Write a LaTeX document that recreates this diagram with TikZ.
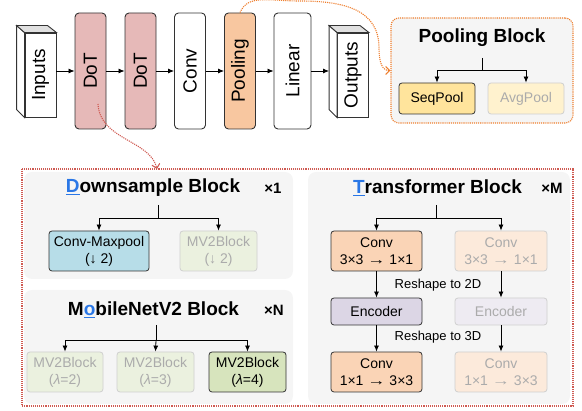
\documentclass[tikz,border=0pt]{standalone}
\usepackage{fontspec}
\setmainfont{Liberation Sans}
\usepackage{tikz}
\usetikzlibrary{arrows.meta,positioning}

\definecolor{dotred}{HTML}{E6B9B8}
\definecolor{poolorg}{HTML}{F8C7A0}
\definecolor{panelgray}{HTML}{F5F5F5}
\definecolor{linkorg}{HTML}{EE7E2D}
\definecolor{linkred}{HTML}{CF5A52}
\definecolor{seqyel}{HTML}{FFE49C}
\definecolor{avgyel}{HTML}{FFF2CE}
\definecolor{cmpblue}{HTML}{B7DDE8}
\definecolor{mvgreen}{HTML}{D7E4BD}
\definecolor{mvpale}{HTML}{EBF1DF}
\definecolor{convorg}{HTML}{FAD4B6}
\definecolor{convpale}{HTML}{FCEADB}
\definecolor{encpurp}{HTML}{DCD6E5}
\definecolor{encpale}{HTML}{EEEBF2}
\definecolor{keyblue}{HTML}{2A77E6}
\definecolor{fadetxt}{HTML}{ABABAB}
\definecolor{fadeline}{HTML}{CFCFCF}

\newcommand{\keyletter}[1]{\textcolor{keyblue}{\underline{#1}}}
\newcommand{\maparrow}{\scalebox{1.3}[1]{→}}

\tikzset{
  layerbox/.style={draw=black!80, line width=0.9pt, rounded corners=4pt, minimum width=31pt, minimum height=116pt, inner sep=0pt, font=\fontsize{19}{22}\selectfont},
  cubebox/.style={draw=black!80, line width=0.9pt, fill=white, minimum width=31pt, minimum height=84pt, inner sep=0pt, font=\fontsize{19}{22}\selectfont},
  opbox/.style={draw=black!80, line width=0.8pt, rounded corners=3pt, minimum height=40pt, inner sep=0pt, align=center, font=\fontsize{14}{17}\selectfont},
  fadedbox/.style={draw=fadeline, text=fadetxt},
  titletext/.style={font=\fontsize{19}{22}\selectfont\bfseries},
  repeattext/.style={font=\fontsize{15}{17}\selectfont\bfseries},
  notetext/.style={font=\fontsize{13}{15}\selectfont},
  flowarrow/.style={-{Latex[length=6pt,width=5pt]}, line width=0.8pt},
  linkarrow/.style={densely dotted, line width=1.1pt, -{Straight Barb[length=4pt,width=8pt]}}
}

\begin{document}
\begin{tikzpicture}[x=1pt, y=-1pt]
    \useasboundingbox (0,0) rectangle (582,411);

    \node[cubebox] (inp) at (40.5,75) {\rotatebox{90}{Inputs}};
    \filldraw[fill=white, draw=black!80, line width=0.9pt] (inp.north west) -- ++(-8,-7) -- ++(0,84) -- (inp.south west) -- cycle;
    \filldraw[fill=black!12, draw=black!80, line width=0.9pt] (inp.north west) -- ++(-8,-7) -- ++(31,0) -- (inp.north east) -- cycle;
    \node[layerbox, fill=dotred] (dot1) at (90.5,71) {\rotatebox{90}{DoT}};
    \node[layerbox, fill=dotred] (dot2) at (140.5,71) {\rotatebox{90}{DoT}};
    \node[layerbox, fill=white] (conv) at (190,71) {\rotatebox{90}{Conv}};
    \node[layerbox, fill=poolorg] (pool) at (240,71) {\rotatebox{90}{Pooling}};
    \node[layerbox, fill=white, minimum width=37pt] (lin) at (292.5,71) {\rotatebox{90}{Linear}};
    \node[cubebox] (outs) at (353,75) {\rotatebox{90}{Outputs}};
    \filldraw[fill=white, draw=black!80, line width=0.9pt] (outs.north west) -- ++(-8,-7) -- ++(0,84) -- (outs.south west) -- cycle;
    \filldraw[fill=black!12, draw=black!80, line width=0.9pt] (outs.north west) -- ++(-8,-7) -- ++(31,0) -- (outs.north east) -- cycle;
    \coordinate (outsback) at ([xshift=-8pt]outs.west);

    \draw[flowarrow] (inp.east |- dot1.west) -- (dot1.west);
    \draw[flowarrow] (dot1.east) -- (dot2.west);
    \draw[flowarrow] (dot2.east) -- (conv.west);
    \draw[flowarrow] (conv.east) -- (pool.west);
    \draw[flowarrow] (pool.east) -- (lin.west);
    \draw[flowarrow] (lin.east) -- (lin.east -| outsback);

    \node[draw=linkorg, densely dotted, line width=1.1pt, fill=panelgray, rounded corners=8pt, minimum width=182pt, minimum height=105pt] (pblk) at (482,70.5) {};
    \node[titletext] (ptitle) at (482,38) {Pooling Block};
    \node[opbox, fill=seqyel, minimum width=76pt, minimum height=31pt] (seq) at (437,98.5) {SeqPool};
    \node[opbox, fadedbox, fill=avgyel, minimum width=76pt, minimum height=31pt] (avg) at (526,98.5) {AvgPool};
    \coordinate (pstem) at (482,58);
    \draw[line width=0.8pt] (pstem) -- ++(0,12) coordinate (pfork);
    \draw[flowarrow] (pfork) -| (seq.north);
    \draw[flowarrow] (pfork) -| (avg.north);

    \draw[linkarrow, linkorg] (pool.north) .. controls (248,-6) and (268,1) .. (300,1) .. controls (345,1) and (379,10) .. (379,48) .. controls (379,62) and (382,70.5) .. (pblk.west);

    \draw[linkred, densely dotted, line width=1.1pt] (22,169) rectangle (573,406);
    \coordinate (framein) at (157,169);
    \coordinate (dotsrc) at (98,104);
    \draw[linkarrow, linkred] (dotsrc) .. controls (100,140) and (150,140) .. (framein);

    \fill[panelgray, rounded corners=8pt] (24,172) rectangle (293,279);
    \fill[panelgray, rounded corners=8pt] (24,290) rectangle (293,404);
    \fill[panelgray, rounded corners=8pt] (308,172) rectangle (570,404);

    \node[titletext] (dstitle) at (153,188) {\keyletter{D}ownsample Block};
    \node[repeattext] (dsrep) at (273,188) {×1};
    \node[opbox, fill=cmpblue, minimum width=100pt] (cmp) at (99,251) {Conv-Maxpool\\(↓ 2)};
    \node[opbox, fadedbox, fill=mvpale, minimum width=77pt] (dsmv) at (218.5,251) {MV2Block\\(↓ 2)};
    \coordinate (dsstem) at (158,205);
    \draw[line width=0.8pt] (dsstem) -- ++(0,13) coordinate (dsfork);
    \draw[flowarrow] (dsfork) -| (cmp.north);
    \draw[flowarrow] (dsfork) -| (dsmv.north);

    \node[titletext] (mvtitle) at (153.5,310) {M\keyletter{o}bileNetV2 Block};
    \node[repeattext] (mvrep) at (274,310) {×N};
    \node[opbox, fadedbox, fill=mvpale, minimum width=76pt] (mva) at (65,372) {MV2Block\\(\textit{λ}=2)};
    \node[opbox, fadedbox, fill=mvpale, minimum width=77pt] (mvb) at (155.5,372) {MV2Block\\(\textit{λ}=3)};
    \node[opbox, fill=mvgreen, minimum width=77pt] (mvc) at (247.5,372) {MV2Block\\(\textit{λ}=4)};
    \coordinate (mvstem) at (156,325);
    \draw[line width=0.8pt] (mvstem) -- ++(0,15) coordinate (mvfork);
    \draw[flowarrow] (mvfork) -| (mva.north);
    \draw[flowarrow] (mvfork) -- (mvb.north);
    \draw[flowarrow] (mvfork) -| (mvc.north);

    \node[titletext] (trtitle) at (437.5,188) {\keyletter{T}ransformer Block};
    \node[repeattext] (trrep) at (552,188) {×M};
    \node[opbox, fill=convorg, minimum width=91pt] (tca) at (376.5,251) {Conv\\3×3 \maparrow{} 1×1};
    \node[opbox, fadedbox, fill=convpale, minimum width=92pt] (tcb) at (501,251) {Conv\\3×3 \maparrow{} 1×1};
    \node[opbox, fill=encpurp, minimum width=91pt, minimum height=27pt] (tea) at (376.5,311.5) {Encoder};
    \node[opbox, fadedbox, fill=encpale, minimum width=92pt, minimum height=27pt] (teb) at (501,311.5) {Encoder};
    \node[opbox, fill=convorg, minimum width=91pt] (tda) at (376.5,372) {Conv\\1×1 \maparrow{} 3×3};
    \node[opbox, fadedbox, fill=convpale, minimum width=92pt] (tdb) at (501,372) {Conv\\1×1 \maparrow{} 3×3};
    \node[notetext] (to2d) at (438,285) {Reshape to 2D};
    \node[notetext] (to3d) at (438,337) {Reshape to 3D};
    \coordinate (trstem) at (436,205);
    \draw[line width=0.8pt] (trstem) -- ++(0,13) coordinate (trfork);
    \draw[flowarrow] (trfork) -| (tca.north);
    \draw[flowarrow] (trfork) -| (tcb.north);
    \draw[flowarrow] (tca.south) -- (tea.north);
    \draw[flowarrow] (tcb.south) -- (teb.north);
    \draw[flowarrow] (tea.south) -- (tda.north);
    \draw[flowarrow] (teb.south) -- (tdb.north);
\end{tikzpicture}
\end{document}
